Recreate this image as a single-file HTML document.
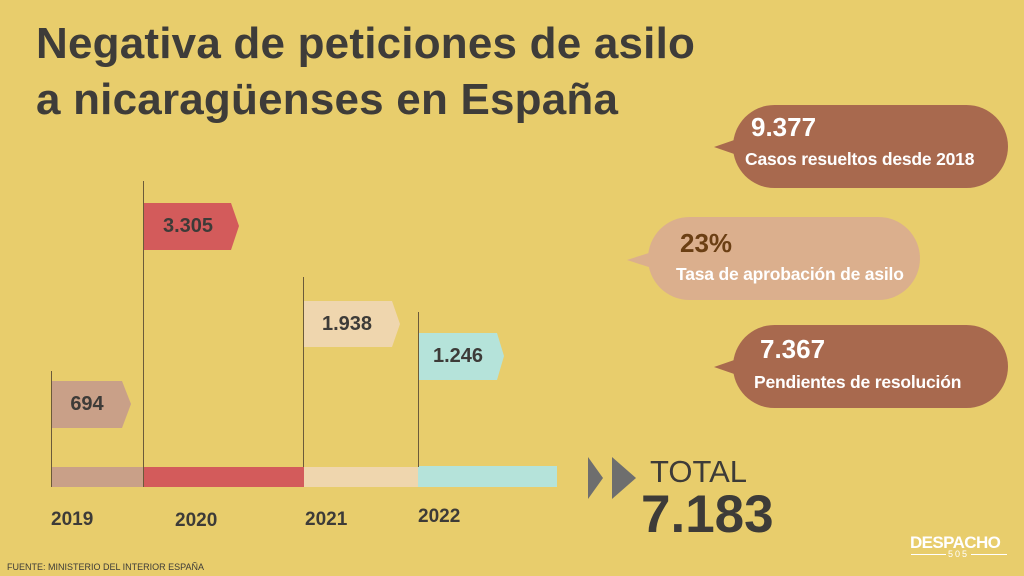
<!DOCTYPE html>
<html><head><meta charset="utf-8"><style>
body{margin:0}
#c{position:relative;width:1024px;height:576px;background:#e8cd6c;overflow:hidden;font-family:"Liberation Sans",sans-serif;color:#3d3b38}
.a{position:absolute}
.t{font-weight:bold;font-size:44px;left:36px;color:#3e3c39;letter-spacing:0.2px;white-space:nowrap}
.lab{position:absolute;font-weight:bold;font-size:20px;display:flex;align-items:center;justify-content:center}
.yr{position:absolute;font-weight:bold;font-size:19px;color:#3d3b38}
.bub{position:absolute;border-radius:42px;color:#fff;font-weight:bold}
</style></head><body><div id="c">
<div class="a t" style="top:19px">Negativa de peticiones de asilo</div>
<div class="a t" style="top:75px">a nicaragüenses en España</div>

<svg class="a" style="left:0;top:0" width="1024" height="576">
<polygon points="51,381 122,381 131,404 122,428 51,428" fill="#c9a088"/>
<polygon points="143,203 231,203 239,226 231,250 143,250" fill="#d35b5b"/>
<polygon points="303,301 392,301 400,324 392,347 303,347" fill="#efd6ae"/>
<polygon points="418,333 497,333 504,356 497,380 418,380" fill="#b5e3da"/>
<rect x="51" y="467" width="92" height="20" fill="#c9a088"/>
<rect x="143" y="467" width="161" height="20" fill="#d35b5b"/>
<rect x="304" y="467" width="114" height="20" fill="#efd6ae"/>
<rect x="418" y="466" width="139" height="21" fill="#b5e3da"/>
<line x1="51.5" y1="371" x2="51.5" y2="487" stroke="#6b5a3a"/>
<line x1="143.5" y1="181" x2="143.5" y2="487" stroke="#6b5a3a"/>
<line x1="303.5" y1="277" x2="303.5" y2="467" stroke="#6b5a3a"/>
<line x1="418.5" y1="312" x2="418.5" y2="467" stroke="#6b5a3a"/>
<polygon points="714,147 740,138 740,156" fill="#a8694e"/>
<polygon points="627,260 655,251 655,269" fill="#dbaf8d"/>
<polygon points="714,367 740,358 740,376" fill="#a8694e"/>
<polygon points="588,457 603,478 588,499" fill="#6e6e6e"/>
<polygon points="612,457 636,478 612,499" fill="#6e6e6e"/>
</svg>
<div class="lab" style="left:51px;top:381px;width:72px;height:47px">694</div>
<div class="lab" style="left:143px;top:203px;width:90px;height:47px">3.305</div>
<div class="lab" style="left:303px;top:301px;width:88px;height:47px">1.938</div>
<div class="lab" style="left:418px;top:333px;width:80px;height:47px">1.246</div>
<div class="yr" style="left:51px;top:509px">2019</div>
<div class="yr" style="left:175px;top:510px">2020</div>
<div class="yr" style="left:305px;top:509px">2021</div>
<div class="yr" style="left:418px;top:506px">2022</div>

<div class="bub" style="left:733px;top:105px;width:275px;height:83px;background:#a8694e">
<div class="a" style="left:18px;top:7px;font-size:26px">9.377</div>
<div class="a" style="left:12px;top:44px;font-size:17.5px;white-space:nowrap;letter-spacing:-0.2px">Casos resueltos desde 2018</div></div>
<div class="bub" style="left:648px;top:217px;width:272px;height:83px;background:#dbaf8d">
<div class="a" style="left:32px;top:11px;font-size:26px;color:#6b3f14">23%</div>
<div class="a" style="left:28px;top:47px;font-size:17.5px;white-space:nowrap;letter-spacing:-0.2px">Tasa de aprobación de asilo</div></div>
<div class="bub" style="left:733px;top:325px;width:275px;height:83px;background:#a8694e">
<div class="a" style="left:27px;top:9px;font-size:26px">7.367</div>
<div class="a" style="left:21px;top:47px;font-size:17.5px;white-space:nowrap;letter-spacing:-0.2px">Pendientes de resolución</div></div>

<div class="a" style="left:650px;top:454px;font-size:31px;color:#3d3b38">TOTAL</div>
<div class="a" style="left:641px;top:484px;font-size:53px;font-weight:bold;color:#3d3b38">7.183</div>
<div class="a" style="left:910px;top:533px;font-size:17px;font-weight:bold;color:#fff;letter-spacing:-0.6px">DESPACHO</div>
<div class="a" style="left:911px;top:554px;width:96px;height:1px;background:#fff"></div>
<div class="a" style="left:946px;top:549px;font-size:9px;color:#fff;background:#e8cd6c;padding:0 2px;letter-spacing:2px">505</div>
<div class="a" style="left:7px;top:562px;font-size:9px;color:#3d3b38">FUENTE: MINISTERIO DEL INTERIOR ESPAÑA</div>
</div></body></html>
